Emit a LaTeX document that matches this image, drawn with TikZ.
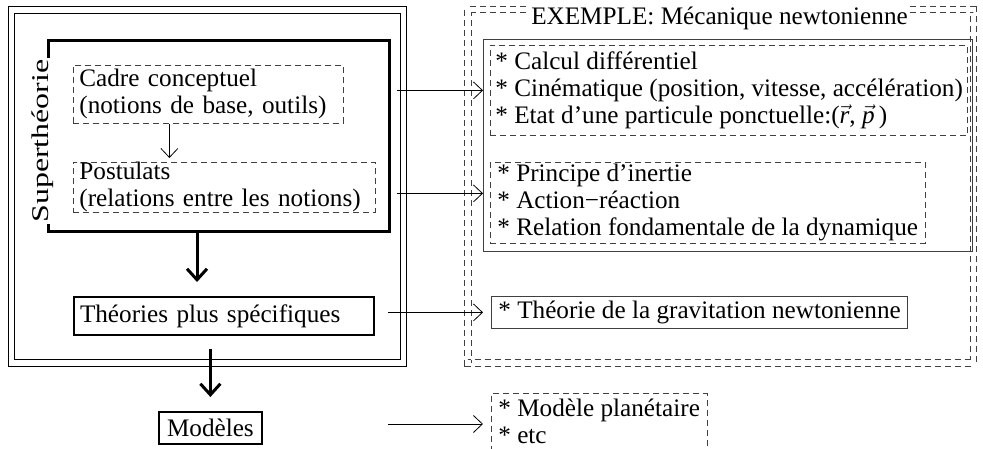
\documentclass[tikz,border=0pt]{standalone}
\usepackage{fontspec}
\setmainfont{Liberation Serif}
\usetikzlibrary{arrows.meta}

\begin{document}
\begin{tikzpicture}[x=1pt,y=-1pt,
    every node/.style={font=\fontsize{25.2}{27}\selectfont, align=left, inner xsep=6pt, inner ysep=2pt},
    dashbox/.style={draw=black!75, line width=0.8pt, dash pattern=on 6pt off 4pt, anchor=north west},
    thinbox/.style={draw=black!75, line width=0.8pt, anchor=north west},
    thickbox/.style={draw, line width=2pt, anchor=north west},
    thinarrow/.style={-{Straight Barb[length=9pt,width=17pt]}, line width=0.8pt},
    thickarrow/.style={-{Straight Barb[length=11pt,width=20pt]}, line width=3pt}]

    \useasboundingbox (0,0) rectangle (983,448);
    \clip (0,0) rectangle (983,448);

    % Double frames
    \draw[double, double distance=5.6pt, line width=0.8pt] (11.5,10) rectangle (403.5,363);
    \draw[double, double distance=5.6pt, line width=0.8pt, draw=black!75, dash pattern=on 6pt off 4pt] (468,9.5) rectangle (973.5,363);

    % Supertheorie block
    \node[draw, line width=3pt, minimum width=341pt, minimum height=191pt, anchor=north west] (super) at (47,39) {};
    \node[rotate=90, fill=white, inner sep=1pt] (superlabel) at ([shift={(-4,5)}]super.west) {\fontsize{24}{24}\selectfont\scalebox{1.33}[1]{Superthéorie}};
    \node[dashbox, text width=258pt, minimum height=58pt] (cadre) at (73,65) {Cadre conceptuel\\(notions de base, outils)};
    \node[dashbox, text width=290pt, minimum height=50pt, inner ysep=0pt] (post) at (73,162) {Postulats\\(relations entre les notions)};

    % Lower levels
    \node[thickbox, text width=288pt, minimum height=38pt] (theo) at (73,296) {Théories plus spécifiques};
    \node[thickbox, minimum height=32pt, inner xsep=8pt] (mod) at (158,411) {Modèles};

    % Example side
    \node[fill=white, inner xsep=2pt, inner ysep=1pt] (extitle) at (719.5,18.5) {EXEMPLE: Mécanique newtonienne};
    \node[draw=black!75, line width=0.8pt, minimum width=489pt, minimum height=212pt, anchor=north west] (meca) at (483,39) {};
    \node[dashbox, minimum height=90pt, inner xsep=5pt] (calc) at (490,45) {* Calcul différentiel\\* Cinématique (position, vitesse, accélération)\\* Etat d’une particule ponctuelle:($\vec{\textit{r}}$, $\vec{\textit{p}}$\,)};
    \node[dashbox, minimum height=81pt, inner xsep=7pt] (princ) at (490,162) {* Principe d’inertie\\* Action−réaction\\* Relation fondamentale de la dynamique};
    \node[thinbox, minimum height=32pt, inner xsep=7pt] (grav) at (491,296) {* Théorie de la gravitation newtonienne};
    \node[dashbox, inner ysep=6pt, inner xsep=7pt] (planet) at (491,393) {* Modèle planétaire\\* etc};

    % Arrows
    \draw[thinarrow] ([xshift=-39pt]cadre.south) -- ([xshift=-39pt,yshift=4pt]cadre.south |- post.north);
    \draw[thickarrow] ([xshift=-22pt]super.south) -- ([xshift=-22pt,yshift=14pt]super.south |- theo.north);
    \draw[thickarrow] ([yshift=-13pt]theo.south -| mod.north) -- ([yshift=14pt]mod.north);
    \draw[thinarrow] ([xshift=6pt]super.east |- calc.west) -- (meca.west |- calc.west);
    \draw[thinarrow] ([xshift=6pt,yshift=-6pt]super.east |- post.east) -- ([yshift=-6pt]meca.west |- post.east);
    \draw[thinarrow] ([xshift=13pt]theo.east |- grav.west) -- ([xshift=-8pt]grav.west);
    \draw[thinarrow] ([xshift=13pt,yshift=4pt]theo.east |- mod.east) -- ([xshift=-8pt,yshift=4pt]planet.west |- mod.east);
\end{tikzpicture}
\end{document}
